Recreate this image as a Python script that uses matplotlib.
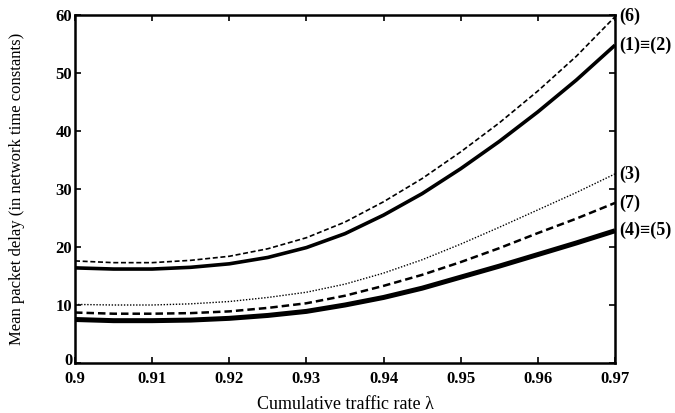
import matplotlib
matplotlib.use("Agg")
import matplotlib.pyplot as plt
import matplotlib.transforms as mtransforms

# ---- data ----
lam = [0.900, 0.905, 0.910, 0.915, 0.920, 0.925, 0.930, 0.935,
       0.940, 0.945, 0.950, 0.955, 0.960, 0.965, 0.970]

delay_6 = [17.6, 17.3, 17.3, 17.7, 18.4, 19.7, 21.6, 24.3,
           27.8, 31.8, 36.4, 41.4, 46.9, 52.9, 59.7]
delay_12 = [16.4, 16.2, 16.2, 16.5, 17.1, 18.2, 19.9, 22.3,
            25.5, 29.2, 33.5, 38.2, 43.3, 48.8, 54.8]
delay_3 = [10.1, 10.0, 10.0, 10.2, 10.6, 11.3, 12.2, 13.6,
           15.5, 17.8, 20.5, 23.4, 26.4, 29.4, 32.6]
delay_7 = [8.7, 8.5, 8.5, 8.6, 8.9, 9.5, 10.3, 11.6,
           13.3, 15.2, 17.4, 19.8, 22.4, 24.9, 27.6]
delay_45 = [7.5, 7.3, 7.3, 7.4, 7.7, 8.2, 8.9, 10.0,
            11.3, 12.9, 14.8, 16.7, 18.7, 20.7, 22.8]

curve_labels = ["(6)", "(1)\u2261(2)", "(3)", "(7)", "(4)\u2261(5)"]
x_ticks = [0.9, 0.91, 0.92, 0.93, 0.94, 0.95, 0.96, 0.97]
x_ticklabels = ["0.9", "0.91", "0.92", "0.93", "0.94", "0.95", "0.96", "0.97"]
y_ticks = [0, 10, 20, 30, 40, 50, 60]

serif = ["Liberation Serif", "DejaVu Serif"]

fig = plt.figure(figsize=(6.75, 4.13), dpi=100)
ax = fig.add_axes([75/675, 50/413, 540/675, 348/413])

series = [delay_6, delay_12, delay_3, delay_7, delay_45]
styles = [
    dict(color="black", lw=1.2, ls=(0, (3, 1.6))),
    dict(color="black", lw=2.6, ls="-"),
    dict(color="black", lw=1.0, ls=(0, (1, 1.2))),
    dict(color="black", lw=1.8, ls=(0, (3, 1.6))),
    dict(color="black", lw=3.6, ls="-"),
]
for ys, st, lab in zip(series, styles, curve_labels):
    ax.plot(lam, ys, solid_capstyle="butt", dash_capstyle="butt", **st)
    ax.annotate(lab, xy=(lam[-1], ys[-1]), xytext=(3, 0),
                textcoords="offset points", ha="left", va="center",
                fontsize=13, fontweight="bold", family=serif,
                annotation_clip=False)

ax.set_xlim(0.9, 0.97)
ax.set_ylim(0, 60)
ax.set_xticks(x_ticks)
ax.set_xticklabels(x_ticklabels)
ax.set_yticks(y_ticks)
for lab in ax.get_xticklabels() + ax.get_yticklabels():
    lab.set_family(serif)
    lab.set_fontweight("bold")
    lab.set_fontsize(12)

ax.tick_params(direction="in", length=4, width=1.2, top=True, right=True)
ax.tick_params(axis="x", pad=6)
ax.tick_params(axis="y", pad=2)
for lab in ax.get_yticklabels():
    lab.set_verticalalignment("center_baseline")
# lift the "0" label slightly so it does not collide with "0.9"
zero_lab = ax.get_yticklabels()[0]
zero_lab.set_transform(zero_lab.get_transform() +
                       mtransforms.ScaledTranslation(0, 3/72, fig.dpi_scale_trans))
for sp in ax.spines.values():
    sp.set_linewidth(1.8)

ax.set_xlabel("Cumulative traffic rate \u03bb", family=serif, fontsize=13,
              labelpad=6)
ax.set_ylabel("Mean packet delay (in network time constants)", family=serif,
              fontsize=12, labelpad=22)

fig.savefig("out.png", dpi=100)
